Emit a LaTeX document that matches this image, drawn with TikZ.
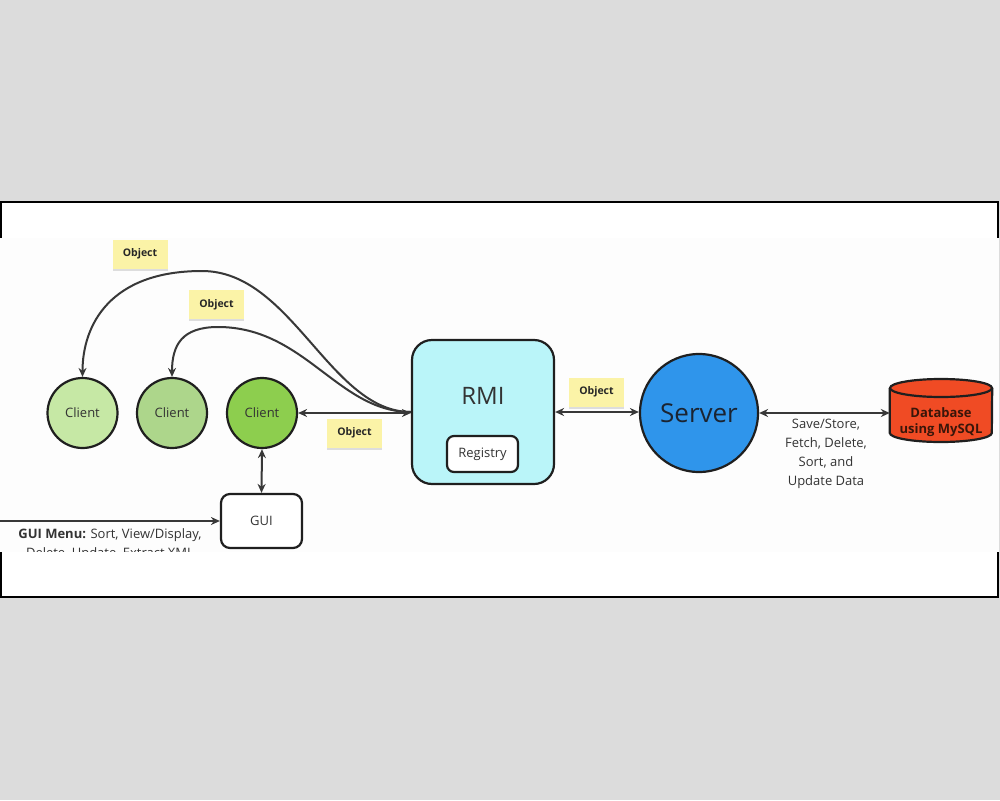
\documentclass[tikz,border=0pt]{standalone}
\usepackage{fontspec}
\setmainfont{Open Sans}
\usetikzlibrary{arrows.meta,calc,shadows}
\definecolor{bgc}{HTML}{DCDCDC}
\definecolor{innerc}{HTML}{FDFDFD}
\definecolor{lnc}{HTML}{383838}
\definecolor{txtc}{HTML}{333333}
\definecolor{clA}{HTML}{C6E8A5}
\definecolor{clB}{HTML}{ADD68B}
\definecolor{clC}{HTML}{8DCE4E}
\definecolor{rmic}{HTML}{BAF5F9}
\definecolor{srvc}{HTML}{2F95EB}
\definecolor{dbc}{HTML}{F04B24}
\definecolor{notec}{HTML}{FBF3A7}
\definecolor{dbtxt}{HTML}{3A160A}
\definecolor{srvtxt}{HTML}{1B2431}
\tikzset{
  client/.style={circle, draw=black!88, line width=2.2pt, minimum size=70pt, inner sep=0pt,
    font=\fontsize{13}{15}\selectfont, text=txtc},
  box/.style={draw=black!88, line width=2.2pt, fill=white, font=\fontsize{13}{15}\selectfont, text=txtc, inner sep=0pt},
  note/.style={fill=notec, inner sep=0pt, minimum width=55pt, minimum height=29pt,
    font=\fontsize{10.5}{12}\selectfont\bfseries, text=black!85,
    drop shadow={shadow xshift=0pt, shadow yshift=-2pt, opacity=0.25}},
  conn/.style={draw=lnc, line width=2pt},
  tip/.tip={Stealth[length=9pt, width=8pt]},
  plain/.style={font=\fontsize{13}{19}\selectfont, text=txtc, align=center, inner sep=0pt}
}
\begin{document}
\begin{tikzpicture}[x=1pt, y=-1pt]
\useasboundingbox (0,0) rectangle (1000,800);
\fill[bgc] (0,0) rectangle (1000,800);
\draw[line width=2.5pt, fill=white] (1.2,202) rectangle (998,597);
\fill[innerc] (0,238) rectangle (999.3,551.5);

% clients
\node[client, fill=clA] (c1) at (82.5,413) {Client};
\node[client, fill=clB] (c2) at (172,413) {Client};
\node[client, fill=clC] (c3) at (262,413) {Client};

% RMI
\node[draw=black!88, line width=2.2pt, rounded corners=20pt, fill=rmic, minimum width=142pt, minimum height=144pt] (rmi) at (483,412) {};
\node[font=\fontsize{24}{28}\selectfont, text=txtc, inner sep=0pt] (rmilbl) at (483,396) {RMI};
\node[box, rounded corners=7pt, minimum width=71pt, minimum height=36pt] (reg) at (482.5,454) {Registry};

% Server
\node[circle, draw=black!88, line width=2.2pt, fill=srvc, minimum size=118pt, inner sep=0pt,
  font=\fontsize{26}{30}\selectfont, text=srvtxt] (srv) at (699,413) {Server};

% Database
\node[minimum width=102pt, minimum height=63pt, inner sep=0pt] (db) at (941,414) {};
\fill[dbc] (db.west |- 0,388) -- (db.west |- 0,433) arc[start angle=180, end angle=360, x radius=51pt, y radius=9pt]
  -- (db.east |- 0,388) arc[start angle=0, end angle=180, x radius=51pt, y radius=9pt] -- cycle;
\draw[line width=2.2pt, draw=black!88] (db.west |- 0,388) -- (db.west |- 0,433) arc[start angle=180, end angle=360, x radius=51pt, y radius=9pt]
  -- (db.east |- 0,388);
\draw[line width=2.2pt, draw=black!88] (941,388) ellipse[x radius=51pt, y radius=9pt];
\node[font=\fontsize{13}{16}\selectfont\bfseries, text=dbtxt, align=center, inner sep=0pt] (dblbl) at (941,422) {Database\\using MySQL};

% GUI
\node[box, rounded corners=9pt, minimum width=81pt, minimum height=54pt] (gui) at (261.5,521) {GUI};
\coordinate (guiin) at (0,521);

% connectors
\draw[conn, {tip}-{tip}] (c3.east) -- (c3.east -| rmi.west);
\draw[conn, {tip}-{tip}] (rmi.east) -- (rmi.east -| srv.west);
\draw[conn, {tip}-{tip}] (srv.east) -- (srv.east -| db.west);
\draw[conn, {tip}-{tip}] (c3.south) -- (gui.north);
\draw[conn, -{tip}] (guiin) -- (gui.west);
\draw[conn, -{tip}] (rmi.west) .. controls (330,412) and (292,271) .. (202,271)
  .. controls (110,271) and (82.5,325) .. (c1.north);
\draw[conn, -{tip}] (rmi.west) .. controls (338,412) and (305,327) .. (218,327)
  .. controls (182,327) and (172,345) .. (c2.north);

% notes
\node[note] (n1) at (140,254) {Object};
\node[note] (n2) at (216.5,304.5) {Object};
\node[note] (n3) at (354.5,433) {Object};
\node[note] (n4) at (596.5,392) {Object};

% labels
\node[plain] (ops) at (826,454) {Save/Store,\\Fetch, Delete,\\Sort, and\\Update Data};
\begin{scope}
\clip (0,238) rectangle (999,551.5);
\node[plain] (menu) at (110,545) {\textbf{GUI Menu:} Sort, View/Display,\\Delete, Update, Extract XML};
\end{scope}
\end{tikzpicture}
\end{document}
